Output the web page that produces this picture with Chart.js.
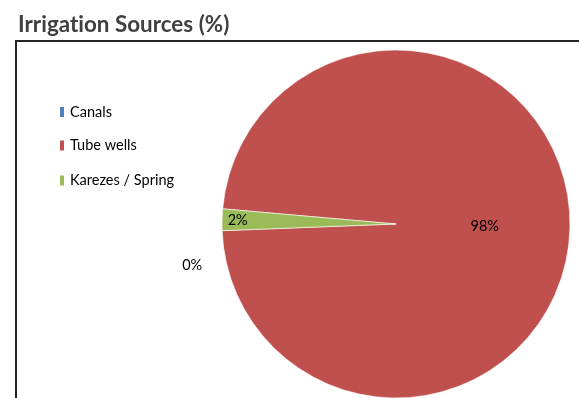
<!DOCTYPE html>
<html>
<head>
<meta charset="utf-8">
<script src="https://cdn.jsdelivr.net/npm/chart.js@4/dist/chart.umd.min.js"></script>
<style>
  html, body { margin: 0; padding: 0; background: #fff; }
  #wrap { position: relative; width: 579px; height: 398px; }
  canvas { font-variant-ligatures: none; }
</style>
</head>
<body>
<div id="wrap"><canvas id="c" width="579" height="398"></canvas></div>
<script>
// Irrigation sources, share in percent
const categories = ['Canals', 'Tube wells', 'Karezes / Spring'];
const shares = [0, 98, 2];
const valueLabels = ['0%', '98%', '2%'];
const sliceColors = ['#4F81BD', '#C0504D', '#9BBB59'];
const chartTitle = 'Irrigation Sources (%)';

const FONT = 'Lato, "Open Sans", sans-serif';

// Where each value label sits: fraction of the radius, and an angular nudge (degrees)
const labelPlacement = [
  { r: 1.195, nudge: -16.4 },
  { r: 0.51, nudge: 0 },
  { r: 0.91, nudge: 0 }
];

const decor = {
  id: 'decor',
  beforeDraw(chart) {
    const ctx = chart.ctx;
    ctx.save();
    // frame of the plot area
    ctx.strokeStyle = '#262626';
    ctx.lineWidth = 2;
    ctx.beginPath();
    ctx.moveTo(16, 400);
    ctx.lineTo(16, 41);
    ctx.lineTo(582, 41);
    ctx.stroke();
    // title (plain letterforms, no "ti" ligature)
    ctx.fillStyle = '#404040';
    ctx.font = 'bold 22.4px ' + FONT;
    if ('textRendering' in ctx) ctx.textRendering = 'optimizeSpeed';
    if ('letterSpacing' in ctx) ctx.letterSpacing = '0.01px';
    ctx.textBaseline = 'alphabetic';
    ctx.textAlign = 'left';
    ctx.fillText(chartTitle, 18, 32);
    // legend
    const ys = [112, 145.5, 180.5];
    ctx.font = '14.5px ' + FONT;
    ctx.textBaseline = 'middle';
    categories.forEach((name, i) => {
      ctx.fillStyle = sliceColors[i];
      ctx.fillRect(60, ys[i] - 5, 4, 10);
      ctx.fillStyle = '#000';
      ctx.fillText(name, 70, ys[i]);
    });
    ctx.restore();
  },
  afterDatasetsDraw(chart) {
    const ctx = chart.ctx;
    const meta = chart.getDatasetMeta(0);
    ctx.save();
    ctx.font = '14.5px ' + FONT;
    ctx.fillStyle = '#000';
    ctx.textAlign = 'center';
    ctx.textBaseline = 'middle';
    meta.data.forEach((arc, i) => {
      const p = labelPlacement[i];
      const mid = (arc.startAngle + arc.endAngle) / 2 + p.nudge * Math.PI / 180;
      const x = arc.x + Math.cos(mid) * arc.outerRadius * p.r;
      const y = arc.y + Math.sin(mid) * arc.outerRadius * p.r;
      ctx.fillText(valueLabels[i], x, y);
    });
    ctx.restore();
  }
};

new Chart(document.getElementById('c'), {
  type: 'pie',
  data: {
    labels: categories,
    datasets: [{
      data: shares,
      backgroundColor: sliceColors,
      borderColor: '#ffffff',
      borderWidth: 0.6,
      hoverOffset: 0
    }]
  },
  options: {
    responsive: false,
    animation: false,
    rotation: -85,
    radius: 174,
    layout: { padding: { left: 222, right: 9, top: 50, bottom: 0 } },
    plugins: {
      legend: { display: false },
      title: { display: false },
      tooltip: { enabled: false }
    }
  },
  plugins: [decor]
});
</script>
</body>
</html>
